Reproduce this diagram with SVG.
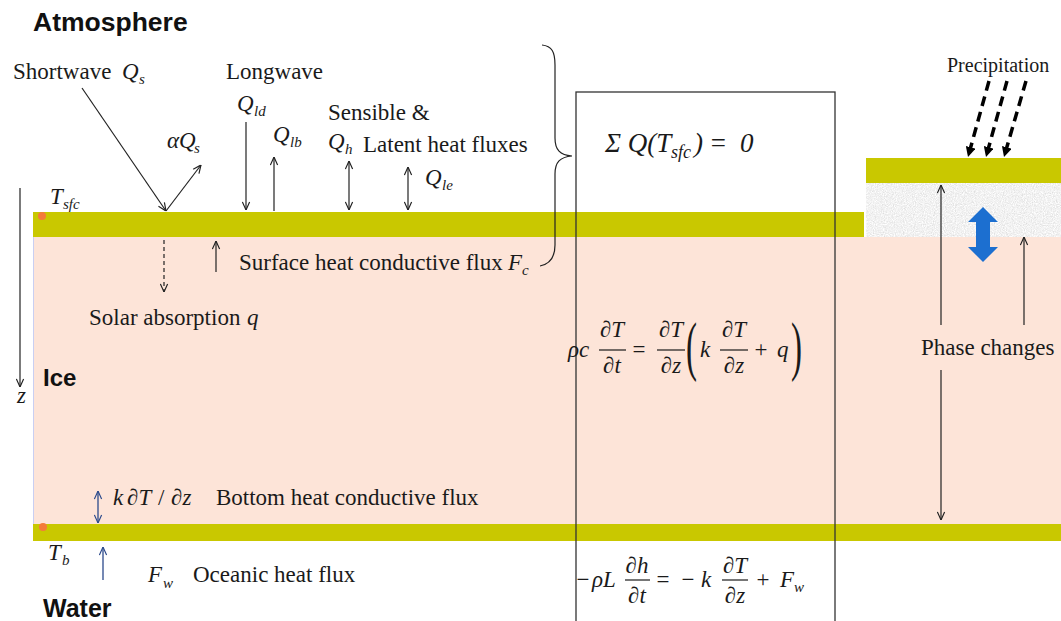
<svg xmlns="http://www.w3.org/2000/svg" width="1061" height="621" viewBox="0 0 1061 621">
<style>
.t{font-family:"Liberation Serif","Times New Roman",serif;font-size:23px;fill:#1a1a1a}
.i{font-family:"Liberation Serif","Times New Roman",serif;font-style:italic;font-size:23px;fill:#1a1a1a}
.s{font-family:"Liberation Serif","Times New Roman",serif;font-style:italic;font-size:15px;fill:#1a1a1a}
.m{font-family:"Liberation Serif","DejaVu Serif",serif;font-size:23px;fill:#1a1a1a}
.mi{font-family:"Liberation Serif","DejaVu Serif",serif;font-style:italic;font-size:23px;fill:#1a1a1a}
.b{font-family:"Liberation Sans",Arial,sans-serif;font-weight:bold;fill:#111}
.ln{stroke:#222;stroke-width:1.2;fill:none}
.nv{stroke:#2c4a8c;stroke-width:1.3;fill:none}
.bar{stroke:#1a1a1a;stroke-width:1.2}
.green{fill:#c9c800}
</style>
<defs>
<marker id="ah" viewBox="0 0 10 10" refX="10" refY="5" markerWidth="9" markerHeight="9" markerUnits="userSpaceOnUse" orient="auto-start-reverse">
<path d="M1,1 L10,5 L1,9" fill="none" stroke="#222" stroke-width="1.3"/>
</marker>
<marker id="ahn" viewBox="0 0 10 10" refX="10" refY="5" markerWidth="9" markerHeight="9" markerUnits="userSpaceOnUse" orient="auto-start-reverse">
<path d="M1,1 L10,5 L1,9" fill="none" stroke="#2c4a8c" stroke-width="1.3"/>
</marker>
<marker id="ahf" viewBox="0 0 10 10" refX="10" refY="5" markerWidth="10" markerHeight="10" markerUnits="userSpaceOnUse" orient="auto">
<path d="M0,0 L10,5 L0,10 Z" fill="#000"/>
</marker>
<filter id="snow" x="0" y="0" width="100%" height="100%">
<feTurbulence type="fractalNoise" baseFrequency="0.9" numOctaves="2" seed="4" result="n"/>
<feColorMatrix in="n" type="matrix" values="0.45 0 0 0 0.66  0.45 0 0 0 0.66  0.45 0 0 0 0.66  0 0 0 0 1" result="g"/>
<feComposite in="g" in2="SourceGraphic" operator="in"/>
</filter>
</defs>
<rect width="1061" height="621" fill="#fff"/>

<g id="layers">
<rect id="ice" x="33" y="237" width="1028" height="287" fill="#fde4d8"/>
<line x1="33.5" y1="237" x2="33.5" y2="524" stroke="#c9cff2" stroke-width="1"/>
<rect id="snow-layer" x="866" y="183" width="195" height="54" fill="#e4e4e4" filter="url(#snow)"/>
<rect class="green" x="33" y="212" width="831" height="25"/>
<rect class="green" x="866" y="158" width="195" height="25"/>
<rect class="green" x="33" y="524" width="1028" height="17"/>
<circle cx="42" cy="216" r="4" fill="#f47b3a"/>
<circle cx="43" cy="527" r="4" fill="#f47b3a"/>
</g>

<g id="region-labels">
<text class="b" x="33" y="31" style="font-size:26.5px">Atmosphere</text>
<text class="b" x="43" y="386" style="font-size:24px">Ice</text>
<text class="b" x="43" y="617" style="font-size:25px">Water</text>
</g>

<g id="connectors">
<line class="ln" x1="82" y1="88" x2="166" y2="211" marker-end="url(#ah)"/>
<line class="ln" x1="166" y1="211" x2="201" y2="165" marker-end="url(#ah)"/>
<line class="ln" x1="246" y1="122" x2="246" y2="210" marker-end="url(#ah)"/>
<line class="ln" x1="274" y1="211" x2="274" y2="157" marker-end="url(#ah)"/>
<line class="ln" x1="349" y1="161" x2="349" y2="210" marker-start="url(#ah)" marker-end="url(#ah)"/>
<line class="ln" x1="408" y1="167" x2="408" y2="210" marker-start="url(#ah)" marker-end="url(#ah)"/>
<line class="ln" x1="216" y1="272" x2="216" y2="241" marker-end="url(#ah)"/>
<line class="ln" x1="164" y1="240" x2="164" y2="292" stroke-dasharray="4,3" marker-end="url(#ah)"/>
<line class="ln" x1="20" y1="188" x2="20" y2="387" marker-end="url(#ah)"/>
<line class="nv" x1="98" y1="491" x2="98" y2="523" marker-start="url(#ahn)" marker-end="url(#ahn)"/>
<line class="nv" x1="103" y1="580" x2="103" y2="547" marker-end="url(#ahn)"/>
<line class="ln" x1="941" y1="325" x2="941" y2="185" marker-end="url(#ah)"/>
<line class="ln" x1="941" y1="370" x2="941" y2="520" marker-end="url(#ah)"/>
<line class="ln" x1="1024" y1="325" x2="1024" y2="237" marker-end="url(#ah)"/>
<g id="precipitation-arrows" stroke="#000" stroke-width="3.5" stroke-dasharray="10,6">
<line x1="989" y1="81" x2="968" y2="157" marker-end="url(#ahf)"/>
<line x1="1007" y1="81" x2="986" y2="157" marker-end="url(#ahf)"/>
<line x1="1026" y1="81" x2="1004" y2="157" marker-end="url(#ahf)"/>
</g>
<polygon id="phase-arrow" points="983,207 998,222 990,222 990,247 998,247 983,262 968,247 976,247 976,222 968,222" fill="#1c6fd0"/>
<path id="brace" class="ln" d="M542,45 C552,46 555,52 555,65 L555,138 C555,150 560,155 572,156 C560,157 555,162 555,174 L555,245 C555,258 550,264 540,266"/>
</g>

<g id="flux-labels">
<text class="t" x="13" y="79">Shortwave</text>
<text class="i" x="122" y="79">Q</text><text class="s" x="139" y="84">s</text>
<text class="i" x="167" y="148">αQ</text><text class="s" x="194" y="153">s</text>
<text class="t" x="226" y="79">Longwave</text>
<text class="i" x="237" y="111">Q</text><text class="s" x="254" y="116">ld</text>
<text class="i" x="273" y="142">Q</text><text class="s" x="290" y="147">lb</text>
<text class="t" x="328" y="120">Sensible &amp;</text>
<text class="i" x="328" y="149">Q</text><text class="s" x="345" y="154">h</text>
<text class="t" x="363" y="152">Latent heat fluxes</text>
<text class="i" x="425" y="185">Q</text><text class="s" x="442" y="190">le</text>
<text class="t" x="239" y="270">Surface heat conductive flux</text>
<text class="i" x="508" y="270">F</text><text class="s" x="522" y="275">c</text>
<text class="t" x="89" y="325">Solar absorption</text>
<text class="i" x="247" y="325">q</text>
<text class="i" x="50" y="204">T</text><text class="s" x="63" y="209">sfc</text>
<text class="i" x="17" y="403">z</text>
<text class="i" x="113" y="505">k</text>
<text class="m" x="127" y="505">∂<tspan font-style="italic">T</tspan></text>
<text class="m" x="158" y="505">/</text>
<text class="m" x="171" y="505">∂<tspan font-style="italic">z</tspan></text>
<text class="t" x="216" y="505">Bottom heat conductive flux</text>
<text class="i" x="48" y="560">T</text><text class="s" x="62" y="565">b</text>
<text class="i" x="148" y="582">F</text><text class="s" x="163" y="588">w</text>
<text class="t" x="193" y="582">Oceanic heat flux</text>
<text class="t" x="947" y="72" style="font-size:20px">Precipitation</text>
<text class="t" x="921" y="355">Phase changes</text>
</g>

<g id="equation-box">
<rect x="576" y="92" width="259" height="540" fill="none" stroke="#333" stroke-width="1.3"/>
<g id="eq-surface">
<text class="i" x="605" y="152" style="font-size:27px">Σ Q(T</text>
<text class="s" x="671" y="158" style="font-size:18px">sfc</text>
<text class="i" x="694" y="152" style="font-size:27px">)</text>
<text class="i" x="709" y="152" style="font-size:27px">=</text>
<text class="i" x="740" y="152" style="font-size:27px">0</text>
</g>
<g id="eq-heat">
<text class="mi" x="568" y="357">ρc</text>
<text class="m" x="612" y="337" text-anchor="middle">∂<tspan font-style="italic">T</tspan></text>
<line class="bar" x1="599" y1="350" x2="626" y2="350"/>
<text class="m" x="612" y="373" text-anchor="middle">∂<tspan font-style="italic">t</tspan></text>
<text class="m" x="639" y="357" text-anchor="middle">=</text>
<text class="m" x="671" y="337" text-anchor="middle">∂<tspan font-style="italic">T</tspan></text>
<line class="bar" x1="657" y1="350" x2="685" y2="350"/>
<text class="m" x="671" y="373" text-anchor="middle">∂<tspan font-style="italic">z</tspan></text>
<text class="m" transform="translate(686,368) scale(0.5,1)" style="font-size:66px">(</text>
<text class="mi" x="700" y="357">k</text>
<text class="m" x="734" y="337" text-anchor="middle">∂<tspan font-style="italic">T</tspan></text>
<line class="bar" x1="720" y1="350" x2="748" y2="350"/>
<text class="m" x="734" y="373" text-anchor="middle">∂<tspan font-style="italic">z</tspan></text>
<text class="m" x="761" y="357" text-anchor="middle">+</text>
<text class="mi" x="777" y="357">q</text>
<text class="m" transform="translate(791,368) scale(0.5,1)" style="font-size:66px">)</text>
</g>
<g id="eq-bottom">
<text class="m" x="583" y="587" text-anchor="middle">−</text>
<text class="mi" x="592" y="587">ρL</text>
<text class="m" x="637" y="573" text-anchor="middle">∂<tspan font-style="italic">h</tspan></text>
<line class="bar" x1="625" y1="580" x2="650" y2="580"/>
<text class="m" x="637" y="603" text-anchor="middle">∂<tspan font-style="italic">t</tspan></text>
<text class="m" x="663" y="587" text-anchor="middle">=</text>
<text class="m" x="688" y="587" text-anchor="middle">−</text>
<text class="mi" x="701" y="587">k</text>
<text class="m" x="735" y="573" text-anchor="middle">∂<tspan font-style="italic">T</tspan></text>
<line class="bar" x1="722" y1="580" x2="748" y2="580"/>
<text class="m" x="735" y="603" text-anchor="middle">∂<tspan font-style="italic">z</tspan></text>
<text class="m" x="763" y="587" text-anchor="middle">+</text>
<text class="mi" x="780" y="587">F</text>
<text class="s" x="794" y="592">w</text>
</g>
</g>
</svg>
